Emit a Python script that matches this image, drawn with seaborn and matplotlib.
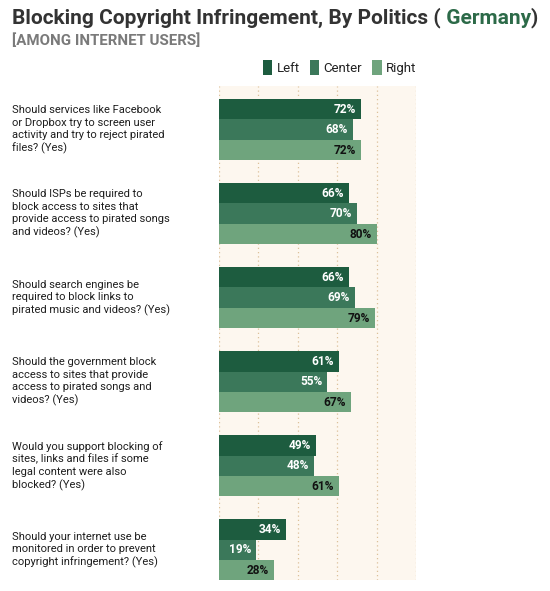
import matplotlib
matplotlib.use("Agg")
import matplotlib.pyplot as plt
import seaborn as sns
import pandas as pd

questions = [
    "Should services like Facebook\nor Dropbox try to screen user\nactivity and try to reject pirated\nfiles? (Yes)",
    "Should ISPs be required to\nblock access to sites that\nprovide access to pirated songs\nand videos? (Yes)",
    "Should search engines be\nrequired to block links to\npirated music and videos? (Yes)",
    "Should the government block\naccess to sites that provide\naccess to pirated songs and\nvideos? (Yes)",
    "Would you support blocking of\nsites, links and files if some\nlegal content were also\nblocked? (Yes)",
    "Should your internet use be\nmonitored in order to prevent\ncopyright infringement? (Yes)",
]
groups = ["Left", "Center", "Right"]
left_vals = [72, 66, 66, 61, 49, 34]
center_vals = [68, 70, 69, 55, 48, 19]
right_vals = [72, 80, 79, 67, 61, 28]
grid_ticks = [0, 20, 40, 60, 80, 100]

colors = {"Left": "#1d5c3f", "Center": "#3b785a", "Right": "#6fa47d"}
label_colors = {"Left": "white", "Center": "white", "Right": "#111111"}

rows = []
for g, vals in zip(groups, [left_vals, center_vals, right_vals]):
    for q, v in zip(questions, vals):
        rows.append({"question": q, "group": g, "value": v})
df = pd.DataFrame(rows)

sns.set_theme(style="white")
plt.rcParams["font.family"] = ["Roboto", "DejaVu Sans"]

W, H = 550, 591
fig = plt.figure(figsize=(W / 100, H / 100), dpi=100, facecolor="white")
ax = fig.add_axes([219 / W, 1 - 580 / H, (416 - 219) / W, (580 - 86) / H])
ax.set_facecolor("#fdf7ef")

sns.barplot(data=df, x="value", y="question", hue="group", hue_order=groups,
            order=questions, orient="h", palette=colors, saturation=1,
            width=0.73, dodge=True, ax=ax, zorder=3, linewidth=0)

ax.set_xlim(0, 100)
ax.set_ylim(5.36, -0.52)
ax.set_xticks(grid_ticks)
ax.set_xticklabels([])
ax.tick_params(axis="x", length=0)
ax.xaxis.grid(True, color="#dcc09a", linestyle=(0, (1.0, 2.4)), linewidth=0.9, zorder=0)
ax.yaxis.grid(False)
for s in ax.spines.values():
    s.set_visible(False)
ax.set_xlabel("")
ax.set_ylabel("")

ax.tick_params(axis="y", length=0, pad=207 * 0.72)
for lbl in ax.get_yticklabels():
    lbl.set_horizontalalignment("left")
    lbl.set_verticalalignment("center")
    lbl.set_fontsize(8)
    lbl.set_color("#1e1e1e")
    lbl.set_linespacing(1.28)

# value labels
for g, cont, vals in zip(groups, ax.containers, [left_vals, center_vals, right_vals]):
    for patch, v in zip(cont.patches, vals):
        ax.annotate(f"{v}%", xy=(patch.get_width(), patch.get_y() + patch.get_height() / 2),
                    xytext=(-3.5, 0), textcoords="offset points", ha="right", va="center",
                    fontsize=8.6, fontweight="bold", color=label_colors[g], zorder=5)

# legend
handles, labels = ax.get_legend_handles_labels()
leg = ax.legend(handles, labels, loc="center right", bbox_to_anchor=(1.0, (580 - 67.5) / 494),
                ncol=3, frameon=False, fontsize=9.5, handlelength=0.7, handleheight=1.3,
                handletextpad=0.3, columnspacing=0.8, borderaxespad=0, borderpad=0)
for t in leg.get_texts():
    t.set_color("#222222")

# title
t1 = fig.text(12 / W, 1 - 23 / H, "Blocking Copyright Infringement, By Politics (",
              fontsize=15, fontweight="bold", color="#333333", va="baseline", ha="left")
a2 = ax.annotate(" Germany", xy=(1, 0), xycoords=t1, va="bottom", ha="left",
                 fontsize=15, fontweight="bold", color="#2c6a48", annotation_clip=False)
a3 = ax.annotate(")", xy=(1, 0), xycoords=a2, va="bottom", ha="left",
                 fontsize=15, fontweight="bold", color="#333333", annotation_clip=False)
fig.text(12 / W, 1 - 45 / H, "[AMONG INTERNET USERS]", fontsize=10.8, fontweight="bold",
         color="#7a7a7a", va="baseline", ha="left")

fig.savefig("out.png", dpi=100, facecolor="white")
